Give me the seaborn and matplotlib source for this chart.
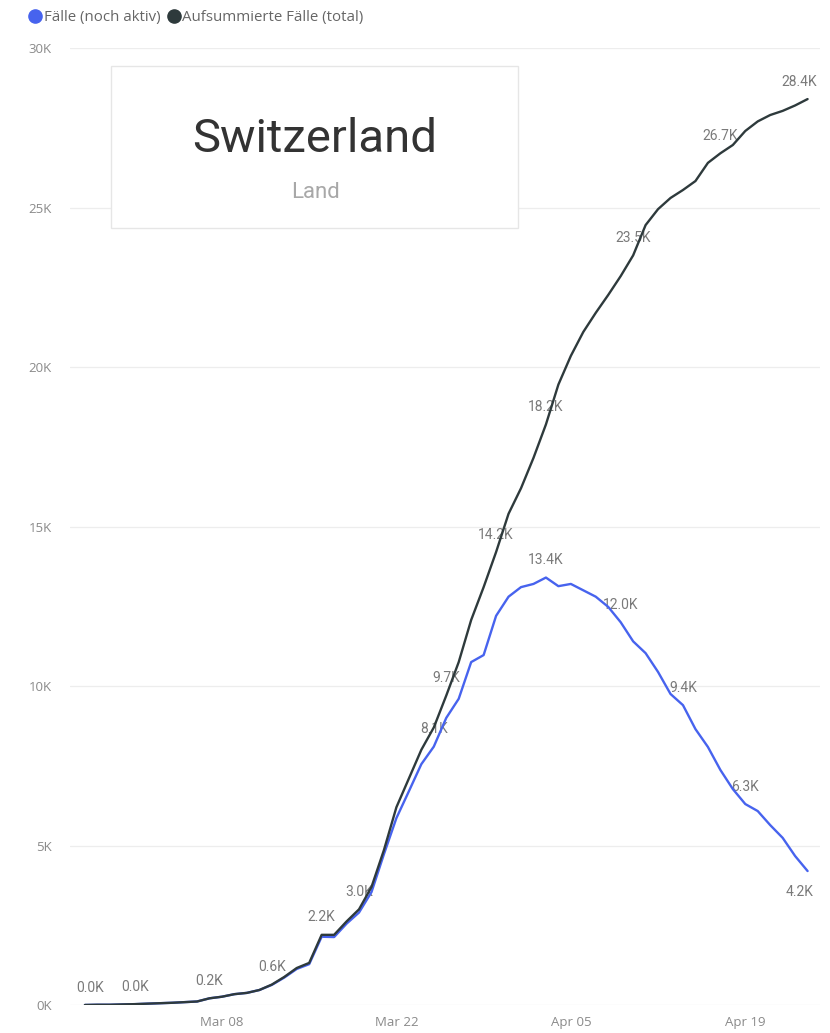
import numpy as np
import pandas as pd
import matplotlib
matplotlib.use("Agg")
import matplotlib.pyplot as plt
import matplotlib.dates as mdates
from matplotlib.lines import Line2D
from matplotlib.patches import Rectangle
import seaborn as sns

sns.set_theme(style="white")
plt.rcParams['font.family'] = ['Open Sans', 'DejaVu Sans']

# data (thousands), one value per day from 2020-02-26 to 2020-04-24
dates = pd.date_range("2020-02-26", "2020-04-24", freq="D")

total_k = [0.001, 0.008, 0.008, 0.018, 0.027, 0.042, 0.056, 0.07, 0.09, 0.11,
           0.21, 0.26, 0.34, 0.38, 0.47, 0.64, 0.88, 1.16, 1.32, 2.2,
           2.2, 2.62, 3.0, 3.7, 4.86, 6.2, 7.1, 8.0, 8.7, 9.7,
           10.75, 12.07, 13.1, 14.2, 15.4, 16.2, 17.15, 18.2, 19.45, 20.35,
           21.1, 21.7, 22.26, 22.85, 23.5, 24.45, 24.95, 25.3, 25.55, 25.83,
           26.4, 26.7, 26.96, 27.4, 27.7, 27.9, 28.03, 28.2, 28.4]

active_k = [0.001, 0.008, 0.008, 0.018, 0.027, 0.042, 0.056, 0.07, 0.09, 0.11,
            0.21, 0.26, 0.34, 0.38, 0.47, 0.63, 0.86, 1.13, 1.28, 2.14,
            2.13, 2.55, 2.9, 3.54, 4.73, 5.86, 6.7, 7.55, 8.1, 9.0,
            9.6, 10.75, 10.97, 12.2, 12.8, 13.1, 13.2, 13.4, 13.13, 13.2,
            13.0, 12.8, 12.48, 12.0, 11.4, 11.03, 10.44, 9.75, 9.4, 8.65,
            8.09, 7.37, 6.77, 6.3, 6.08, 5.64, 5.24, 4.67, 4.2]

# which points carry a data label
total_label_days = ["2020-02-26", "2020-03-01", "2020-03-07", "2020-03-12", "2020-03-16",
                    "2020-03-19", "2020-03-26", "2020-03-30", "2020-04-03", "2020-04-10",
                    "2020-04-17", "2020-04-24"]
active_label_days = ["2020-03-25", "2020-04-03", "2020-04-09", "2020-04-14", "2020-04-19"]
active_label_below = ["2020-04-24"]

tick_days = ["2020-03-08", "2020-03-22", "2020-04-05", "2020-04-19"]
y_ticks = [0, 5, 10, 15, 20, 25, 30]

series_names = ["Fälle (noch aktiv)", "Aufsummierte Fälle (total)"]
colors = ["#4763EE", "#2E3A3C"]

df = pd.DataFrame({"date": dates, "active": active_k, "total": total_k})

fig = plt.figure(figsize=(8.3, 10.33), dpi=100)
ax = fig.add_axes([0.0843, 0.0271, 0.9037, 0.9264])

sns.lineplot(data=df, x="date", y="active", ax=ax, color=colors[0], lw=1.7, zorder=4)
sns.lineplot(data=df, x="date", y="total", ax=ax, color=colors[1], lw=1.7, zorder=5)

ax.set_ylim(0, 30)
ax.set_xlim(pd.Timestamp("2020-03-08") - pd.Timedelta(days=12.2),
            pd.Timestamp("2020-03-08") + pd.Timedelta(days=48.0))
ax.set_yticks(y_ticks)
ax.set_yticklabels([f"{t}K" for t in y_ticks])
ax.set_xticks(pd.to_datetime(tick_days))
ax.xaxis.set_major_formatter(mdates.DateFormatter("%b %d"))
ax.tick_params(axis="both", length=0, labelsize=9.5, labelcolor="#8a8a8a")
ax.tick_params(axis="y", pad=13)
ax.tick_params(axis="x", pad=8)
ax.set_xlabel("")
ax.set_ylabel("")
ax.grid(axis="y", color="#ededed", lw=0.9)
ax.set_axisbelow(True)
for s in ax.spines.values():
    s.set_visible(False)

lab_kw = dict(ha="center", va="center", fontsize=10, color="#7a7a7a",
              textcoords="offset points", zorder=2, family=["Roboto", "DejaVu Sans"])
idx = {d: i for i, d in enumerate(dates.strftime("%Y-%m-%d"))}
for d in total_label_days:
    v = total_k[idx[d]]
    dx = 4 if d == total_label_days[0] else (-6 if d == total_label_days[-1] else 0)
    ax.annotate(f"{v:.1f}K", (pd.Timestamp(d), v), xytext=(dx, 12.5), **lab_kw)
for d in active_label_days:
    v = active_k[idx[d]]
    ax.annotate(f"{v:.1f}K", (pd.Timestamp(d), v), xytext=(0, 12.5), **lab_kw)
for d in active_label_below:
    v = active_k[idx[d]]
    ax.annotate(f"{v:.1f}K", (pd.Timestamp(d), v), xytext=(-6, -15), **lab_kw)

# card with the country name
fig.add_artist(Rectangle((0.1337, 0.7793), 0.4904, 0.1568, transform=fig.transFigure,
                         facecolor="white", edgecolor="#e6e6e6", lw=1.0, zorder=3))
fig.text(0.3795, 0.8529, "Switzerland", ha="center", va="baseline", fontsize=34,
         color="#333333", family=["Roboto", "DejaVu Sans"], zorder=4)
fig.text(0.3807, 0.8083, "Land", ha="center", va="baseline", fontsize=16,
         color="#a8a8a8", family=["Roboto", "DejaVu Sans"], zorder=4)

handles = [Line2D([], [], marker="o", ls="", color=c, markersize=9.5) for c in colors]
fig.legend(handles, series_names, loc="upper left", bbox_to_anchor=(0.023, 0.999),
           frameon=False, fontsize=10.8, labelcolor="#666666", handletextpad=0.1,
           columnspacing=0.4, ncol=2, handlelength=0.95, borderaxespad=0.2)

fig.savefig("out.png", dpi=100, facecolor="white")
